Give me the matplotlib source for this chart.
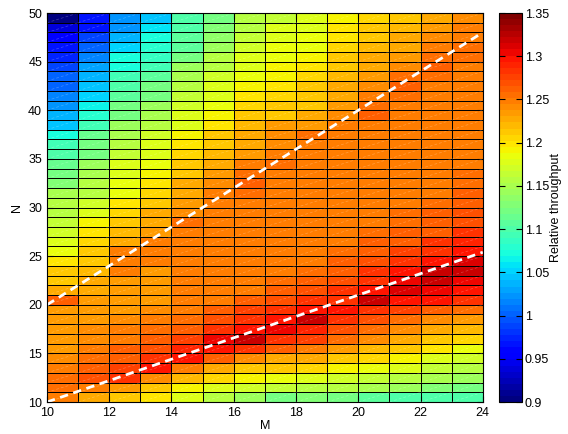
import numpy as np
import matplotlib
matplotlib.use('Agg')
import matplotlib.pyplot as plt
from matplotlib.collections import LineCollection

plt.rcParams['font.family'] = ['Liberation Sans', 'DejaVu Sans']

# grid edges
m_edges = np.arange(10, 25)   # M = 10..24
n_edges = np.arange(10, 51)   # N = 10..50

# relative throughput, one row per N (10 .. 49), columns M = 10 .. 23
throughput = [
    [1.250, 1.226, 1.215, 1.200, 1.175, 1.160, 1.145, 1.125, 1.130, 1.120, 1.110, 1.100, 1.097, 1.100],  # N=10
    [1.255, 1.245, 1.235, 1.210, 1.190, 1.180, 1.170, 1.165, 1.155, 1.155, 1.150, 1.140, 1.130, 1.125],
    [1.255, 1.268, 1.285, 1.240, 1.220, 1.204, 1.190, 1.185, 1.180, 1.170, 1.165, 1.160, 1.150, 1.145],
    [1.250, 1.260, 1.275, 1.294, 1.245, 1.226, 1.210, 1.210, 1.204, 1.190, 1.185, 1.175, 1.165, 1.160],
    [1.243, 1.255, 1.265, 1.285, 1.294, 1.260, 1.243, 1.230, 1.226, 1.215, 1.204, 1.190, 1.180, 1.170],
    [1.237, 1.250, 1.260, 1.270, 1.290, 1.300, 1.280, 1.260, 1.250, 1.237, 1.220, 1.210, 1.200, 1.185],  # N=15
    [1.237, 1.243, 1.250, 1.260, 1.275, 1.303, 1.318, 1.285, 1.275, 1.255, 1.243, 1.226, 1.210, 1.204],
    [1.232, 1.243, 1.245, 1.255, 1.265, 1.280, 1.300, 1.305, 1.287, 1.270, 1.255, 1.243, 1.230, 1.220],
    [1.232, 1.237, 1.243, 1.245, 1.255, 1.270, 1.285, 1.300, 1.315, 1.285, 1.270, 1.255, 1.243, 1.237],
    [1.237, 1.237, 1.237, 1.243, 1.250, 1.260, 1.275, 1.285, 1.300, 1.294, 1.285, 1.275, 1.265, 1.255],
    [1.260, 1.237, 1.237, 1.237, 1.245, 1.250, 1.265, 1.270, 1.280, 1.285, 1.316, 1.300, 1.294, 1.280],  # N=20
    [1.226, 1.230, 1.237, 1.237, 1.245, 1.245, 1.250, 1.260, 1.270, 1.285, 1.300, 1.310, 1.305, 1.294],
    [1.215, 1.230, 1.237, 1.237, 1.245, 1.245, 1.245, 1.255, 1.260, 1.270, 1.285, 1.305, 1.316, 1.305],
    [1.210, 1.220, 1.245, 1.237, 1.245, 1.245, 1.245, 1.250, 1.255, 1.265, 1.280, 1.294, 1.316, 1.316],
    [1.200, 1.215, 1.250, 1.245, 1.245, 1.245, 1.245, 1.245, 1.250, 1.260, 1.270, 1.285, 1.300, 1.310],
    [1.185, 1.210, 1.245, 1.245, 1.245, 1.245, 1.245, 1.245, 1.250, 1.255, 1.265, 1.275, 1.285, 1.297],  # N=25
    [1.175, 1.204, 1.226, 1.250, 1.245, 1.245, 1.245, 1.245, 1.245, 1.250, 1.260, 1.265, 1.280, 1.289],
    [1.170, 1.200, 1.220, 1.237, 1.250, 1.245, 1.245, 1.245, 1.245, 1.250, 1.255, 1.260, 1.265, 1.280],
    [1.165, 1.190, 1.215, 1.230, 1.255, 1.250, 1.250, 1.245, 1.245, 1.245, 1.250, 1.255, 1.260, 1.272],
    [1.160, 1.180, 1.204, 1.226, 1.243, 1.250, 1.250, 1.245, 1.245, 1.245, 1.250, 1.255, 1.260, 1.268],
    [1.155, 1.170, 1.200, 1.215, 1.237, 1.250, 1.250, 1.250, 1.245, 1.250, 1.250, 1.250, 1.255, 1.265],  # N=30
    [1.150, 1.160, 1.185, 1.204, 1.230, 1.250, 1.255, 1.250, 1.245, 1.245, 1.245, 1.245, 1.250, 1.260],
    [1.130, 1.155, 1.185, 1.200, 1.226, 1.243, 1.260, 1.250, 1.245, 1.245, 1.245, 1.245, 1.245, 1.255],
    [1.125, 1.150, 1.180, 1.190, 1.215, 1.237, 1.255, 1.250, 1.245, 1.245, 1.245, 1.245, 1.245, 1.255],
    [1.115, 1.145, 1.175, 1.185, 1.210, 1.230, 1.250, 1.252, 1.245, 1.245, 1.245, 1.245, 1.245, 1.250],
    [1.100, 1.125, 1.165, 1.180, 1.204, 1.220, 1.237, 1.250, 1.245, 1.245, 1.245, 1.245, 1.245, 1.250],  # N=35
    [1.090, 1.125, 1.160, 1.180, 1.200, 1.215, 1.230, 1.243, 1.250, 1.250, 1.245, 1.245, 1.245, 1.250],
    [1.069, 1.115, 1.150, 1.170, 1.190, 1.210, 1.226, 1.243, 1.255, 1.250, 1.250, 1.245, 1.245, 1.250],
    [1.046, 1.090, 1.140, 1.160, 1.180, 1.200, 1.220, 1.237, 1.237, 1.250, 1.250, 1.245, 1.245, 1.250],
    [1.040, 1.080, 1.125, 1.150, 1.175, 1.190, 1.210, 1.215, 1.230, 1.243, 1.260, 1.250, 1.245, 1.245],
    [1.025, 1.063, 1.120, 1.145, 1.170, 1.185, 1.204, 1.210, 1.215, 1.237, 1.255, 1.250, 1.245, 1.245],  # N=40
    [1.015, 1.050, 1.110, 1.125, 1.165, 1.180, 1.200, 1.205, 1.215, 1.230, 1.250, 1.255, 1.250, 1.245],
    [1.005, 1.046, 1.100, 1.120, 1.155, 1.175, 1.190, 1.200, 1.210, 1.226, 1.243, 1.260, 1.250, 1.250],
    [1.000, 1.035, 1.090, 1.105, 1.150, 1.170, 1.185, 1.195, 1.204, 1.220, 1.237, 1.255, 1.255, 1.250],
    [0.990, 1.030, 1.075, 1.095, 1.140, 1.160, 1.180, 1.190, 1.200, 1.215, 1.230, 1.243, 1.260, 1.250],
    [0.975, 1.015, 1.069, 1.085, 1.125, 1.155, 1.175, 1.186, 1.190, 1.210, 1.226, 1.237, 1.255, 1.255],  # N=45
    [0.965, 1.000, 1.050, 1.080, 1.110, 1.140, 1.170, 1.183, 1.185, 1.204, 1.220, 1.230, 1.250, 1.255],
    [0.955, 0.985, 1.040, 1.069, 1.105, 1.135, 1.165, 1.180, 1.185, 1.200, 1.215, 1.226, 1.243, 1.250],
    [0.940, 0.970, 1.024, 1.058, 1.100, 1.130, 1.160, 1.175, 1.180, 1.200, 1.210, 1.220, 1.237, 1.250],
    [0.905, 0.965, 1.024, 1.046, 1.097, 1.125, 1.155, 1.165, 1.175, 1.190, 1.204, 1.215, 1.230, 1.243],  # N=49
]

# the two white dashed reference lines (M, N end points)
line_upper_m = [10, 24]
line_upper_n = [20, 48]
line_lower_m = [10, 24]
line_lower_n = [10, 25.4]

cbar_ticks = [0.9, 0.95, 1.0, 1.05, 1.1, 1.15, 1.2, 1.25, 1.3, 1.35]
cbar_labels = ['0.9', '0.95', '1', '1.05', '1.1', '1.15', '1.2', '1.25', '1.3', '1.35']

fig = plt.figure(figsize=(5.68, 4.34), dpi=100)
ax = fig.add_axes([0.0827, 0.0737, 0.7673, 0.8963])
cax = fig.add_axes([0.8785, 0.0737, 0.0405, 0.8963])

cmap = plt.get_cmap('jet', 64)
mesh = ax.pcolormesh(m_edges, n_edges, np.array(throughput), cmap=cmap,
                     vmin=0.9, vmax=1.35, edgecolors='k', linewidth=0.45)

# faint diagonal in every cell (renderer artefact in the original)
diag = [[(m, n), (m + 1, n + 1)] for m in m_edges[:-1] for n in n_edges[:-1]]
ax.add_collection(LineCollection(diag, colors='white', linewidths=0.5,
                                 alpha=0.25, linestyles=(0, (4, 3))))

ax.plot(line_upper_m, line_upper_n, color='white', lw=2, dashes=(3, 2))
ax.plot(line_lower_m, line_lower_n, color='white', lw=2, dashes=(3, 2))

ax.set_xlim(10, 24)
ax.set_ylim(10, 50)
ax.set_xticks(np.arange(10, 25, 2))
ax.set_yticks(np.arange(10, 51, 5))
ax.tick_params(direction='in', labelsize=9, length=4, top=True, right=True)
ax.set_xlabel('M', fontsize=9, labelpad=1)
ax.set_ylabel('N', fontsize=9, labelpad=4)

cb = fig.colorbar(mesh, cax=cax, ticks=cbar_ticks)
cb.ax.tick_params(direction='in', labelsize=9, length=4, left=True, right=True, pad=2)
cb.ax.set_yticklabels(cbar_labels)
cb.set_label('Relative throughput', fontsize=9, labelpad=1)
cb.outline.set_linewidth(0.8)

fig.savefig('out.png', dpi=100)
